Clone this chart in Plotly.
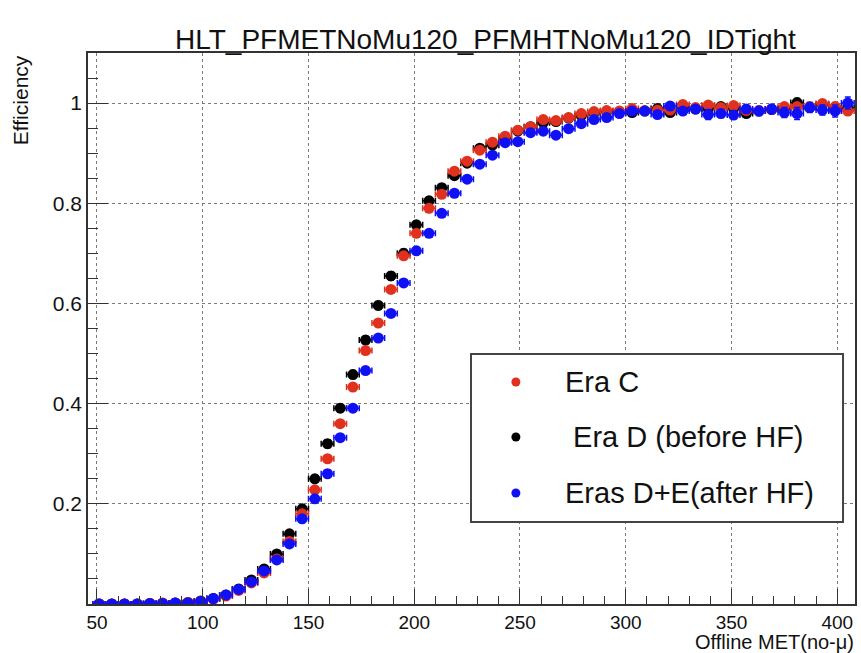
import plotly.graph_objects as go

# ---------------- data ----------------
met_bins = [51, 57, 63, 69, 75, 81, 87, 93, 99, 105, 111, 117, 123, 129, 135, 141, 147, 153, 159, 165,
            171, 177, 183, 189, 195, 201, 207, 213, 219, 225, 231, 237, 243, 249, 255, 261, 267, 273, 279, 285,
            291, 297, 303, 309, 315, 321, 327, 333, 339, 345, 351, 357, 363, 369, 375, 381, 387, 393, 399, 405]
bin_half_width = 3

eff_era_c = [0.000, 0.000, 0.000, 0.000, 0.001, 0.002, 0.002, 0.003, 0.005, 0.010, 0.016, 0.027, 0.042, 0.062, 0.090, 0.125, 0.180, 0.228, 0.290, 0.360,
             0.433, 0.506, 0.561, 0.628, 0.695, 0.740, 0.790, 0.818, 0.864, 0.884, 0.906, 0.922, 0.934, 0.946, 0.953, 0.967, 0.965, 0.971, 0.979, 0.983,
             0.985, 0.984, 0.989, 0.985, 0.986, 0.986, 0.997, 0.991, 0.996, 0.991, 0.995, 0.985, 0.985, 0.988, 0.993, 0.993, 0.993, 0.999, 0.993, 0.984]
err_era_c = [0.001, 0.001, 0.001, 0.001, 0.001, 0.001, 0.001, 0.001, 0.002, 0.002, 0.002, 0.003, 0.003, 0.004, 0.004, 0.005, 0.005, 0.006, 0.006, 0.007,
             0.007, 0.007, 0.007, 0.007, 0.006, 0.006, 0.006, 0.006, 0.005, 0.005, 0.005, 0.005, 0.004, 0.004, 0.004, 0.004, 0.004, 0.004, 0.004, 0.004,
             0.004, 0.004, 0.004, 0.004, 0.005, 0.005, 0.005, 0.005, 0.005, 0.005, 0.006, 0.006, 0.006, 0.006, 0.006, 0.007, 0.007, 0.007, 0.008, 0.008]

eff_era_d = [0.000, 0.000, 0.000, 0.000, 0.001, 0.001, 0.002, 0.003, 0.006, 0.011, 0.018, 0.030, 0.048, 0.070, 0.100, 0.140, 0.190, 0.250, 0.320, 0.391,
             0.458, 0.527, 0.596, 0.655, 0.700, 0.757, 0.805, 0.831, 0.855, 0.880, 0.910, 0.916, 0.930, 0.944, 0.953, 0.961, 0.963, 0.970, 0.975, 0.980,
             0.983, 0.983, 0.981, 0.984, 0.989, 0.981, 0.990, 0.988, 0.989, 0.993, 0.989, 0.979, 0.984, 0.987, 0.989, 1.001, 0.991, 0.997, 0.990, 0.990]
err_era_d = [0.001, 0.001, 0.001, 0.001, 0.001, 0.001, 0.001, 0.002, 0.002, 0.003, 0.003, 0.004, 0.004, 0.005, 0.006, 0.006, 0.007, 0.007, 0.008, 0.008,
             0.008, 0.008, 0.008, 0.008, 0.008, 0.007, 0.007, 0.007, 0.006, 0.006, 0.006, 0.005, 0.005, 0.005, 0.005, 0.005, 0.005, 0.004, 0.004, 0.004,
             0.005, 0.005, 0.005, 0.005, 0.005, 0.006, 0.006, 0.006, 0.006, 0.006, 0.007, 0.007, 0.007, 0.007, 0.008, 0.008, 0.008, 0.008, 0.009, 0.009]

eff_eras_de = [0.000, 0.000, 0.000, 0.000, 0.001, 0.001, 0.002, 0.002, 0.005, 0.011, 0.018, 0.029, 0.044, 0.066, 0.088, 0.120, 0.170, 0.210, 0.260, 0.332,
               0.391, 0.466, 0.531, 0.580, 0.641, 0.705, 0.740, 0.780, 0.820, 0.848, 0.878, 0.896, 0.921, 0.923, 0.941, 0.944, 0.936, 0.949, 0.959, 0.967,
               0.971, 0.979, 0.984, 0.984, 0.977, 0.994, 0.984, 0.988, 0.977, 0.979, 0.976, 0.988, 0.984, 0.988, 0.981, 0.979, 0.991, 0.986, 0.984, 1.000]
err_eras_de = [0.001, 0.001, 0.001, 0.001, 0.001, 0.001, 0.001, 0.001, 0.002, 0.002, 0.003, 0.003, 0.004, 0.004, 0.005, 0.005, 0.006, 0.006, 0.007, 0.007,
               0.007, 0.007, 0.007, 0.007, 0.007, 0.007, 0.006, 0.006, 0.006, 0.006, 0.005, 0.005, 0.005, 0.005, 0.005, 0.005, 0.005, 0.005, 0.005, 0.005,
               0.005, 0.006, 0.006, 0.006, 0.007, 0.007, 0.007, 0.007, 0.010, 0.008, 0.008, 0.008, 0.009, 0.009, 0.010, 0.012, 0.010, 0.010, 0.012, 0.012]

series_names = ["Era C", " Era D (before HF)", "Eras D+E(after HF)"]
series_colors = ["#e0301e", "#000000", "#1010f5"]

x_ticks = [50, 100, 150, 200, 250, 300, 350, 400]
y_ticks = [0.2, 0.4, 0.6, 0.8, 1.0]
y_tick_text = ["0.2", "0.4", "0.6", "0.8", "1"]

title_text = "HLT_PFMETNoMu120_PFMHTNoMu120_IDTight"
x_title = "Offline MET(no-μ)"
y_title = "Efficiency"

# ---------------- figure ----------------
FONT = "Liberation Sans, Arial, Helvetica, sans-serif"
fig = go.Figure()

# draw order: black first, then red, then blue on top
order = [(eff_era_d, err_era_d, 1), (eff_era_c, err_era_c, 0), (eff_eras_de, err_eras_de, 2)]
for vals, errs, idx in order:
    c = series_colors[idx]
    fig.add_trace(go.Scatter(
        x=met_bins, y=vals, mode="markers", name=series_names[idx].strip(), showlegend=False,
        marker=dict(color=c, size=11, line=dict(width=0)),
        error_x=dict(type="constant", value=bin_half_width, color=c, thickness=1.5, width=3),
        error_y=dict(type="data", array=errs, color=c, thickness=1.5, width=3),
    ))

axis_common = dict(
    showline=True, linecolor="#333333", linewidth=1.5, mirror=True,
    ticks="inside", tickcolor="#333333", tickwidth=1.2,
    showgrid=True, gridcolor="#7a7a7a", gridwidth=1, griddash="dot",
    zeroline=False,
)

fig.update_xaxes(range=[45.75, 408.4], tickvals=x_ticks, ticklen=15,
                 tickfont=dict(family=FONT, size=19, color="#111111"),
                 minor=dict(dtick=10, tick0=50, ticklen=8, ticks="inside", tickcolor="#333333", showgrid=False),
                 **axis_common)
fig.update_yaxes(range=[0, 1.1], tickvals=y_ticks, ticktext=y_tick_text, ticklen=20,
                 tickfont=dict(family=FONT, size=21, color="#111111"),
                 minor=dict(dtick=0.05, tick0=0, ticklen=10, ticks="inside", tickcolor="#333333", showgrid=False),
                 **axis_common)

L, R, T, B = 88, 4, 53, 49
W, H = 861, 653
pw = W - L - R
ph = H - T - B

def px_x(px):
    return (px - L) / pw

def px_y(py):
    return (H - B - py) / ph

annotations = [
    dict(text=title_text, x=px_x(487), y=px_y(40), xref="paper", yref="paper",
         xanchor="center", yanchor="middle", showarrow=False,
         font=dict(family=FONT, size=28, color="#111111")),
    dict(text=x_title, x=px_x(858), y=px_y(655), xref="paper", yref="paper",
         xanchor="right", yanchor="bottom", showarrow=False,
         font=dict(family=FONT, size=20, color="#111111")),
    dict(text=y_title, x=px_x(20), y=px_y(53), xref="paper", yref="paper",
         xanchor="center", yanchor="top", textangle=-90, showarrow=False,
         font=dict(family=FONT, size=21, color="#111111")),
]

shapes = [
    dict(type="rect", xref="paper", yref="paper",
         x0=px_x(472), x1=px_x(845), y0=px_y(522), y1=px_y(354),
         line=dict(color="#444444", width=2), fillcolor="white", layer="above"),
]

legend_rows = [382, 437, 493]
text_left = [564, 564, 564]
for i in range(3):
    cy = px_y(legend_rows[i])
    shapes.append(dict(type="circle", xref="paper", yref="paper",
                       xsizemode="pixel", ysizemode="pixel",
                       xanchor=px_x(517), yanchor=cy, x0=-4.5, x1=4.5, y0=-4.5, y1=4.5,
                       fillcolor=series_colors[i], line=dict(width=0), layer="above"))
    label = series_names[i]
    if label.startswith(" "):
        label = "&nbsp;" + label[1:]
    annotations.append(dict(text=label,
                            x=px_x(text_left[i]), y=cy, xref="paper", yref="paper",
                            xanchor="left", yanchor="middle", showarrow=False,
                            font=dict(family=FONT, size=29, color="#111111")))

fig.update_layout(
    width=W, height=H,
    margin=dict(l=L, r=R, t=T, b=B),
    paper_bgcolor="white", plot_bgcolor="white",
    annotations=annotations, shapes=shapes,
    showlegend=False,
)

fig.write_html("out.html")
